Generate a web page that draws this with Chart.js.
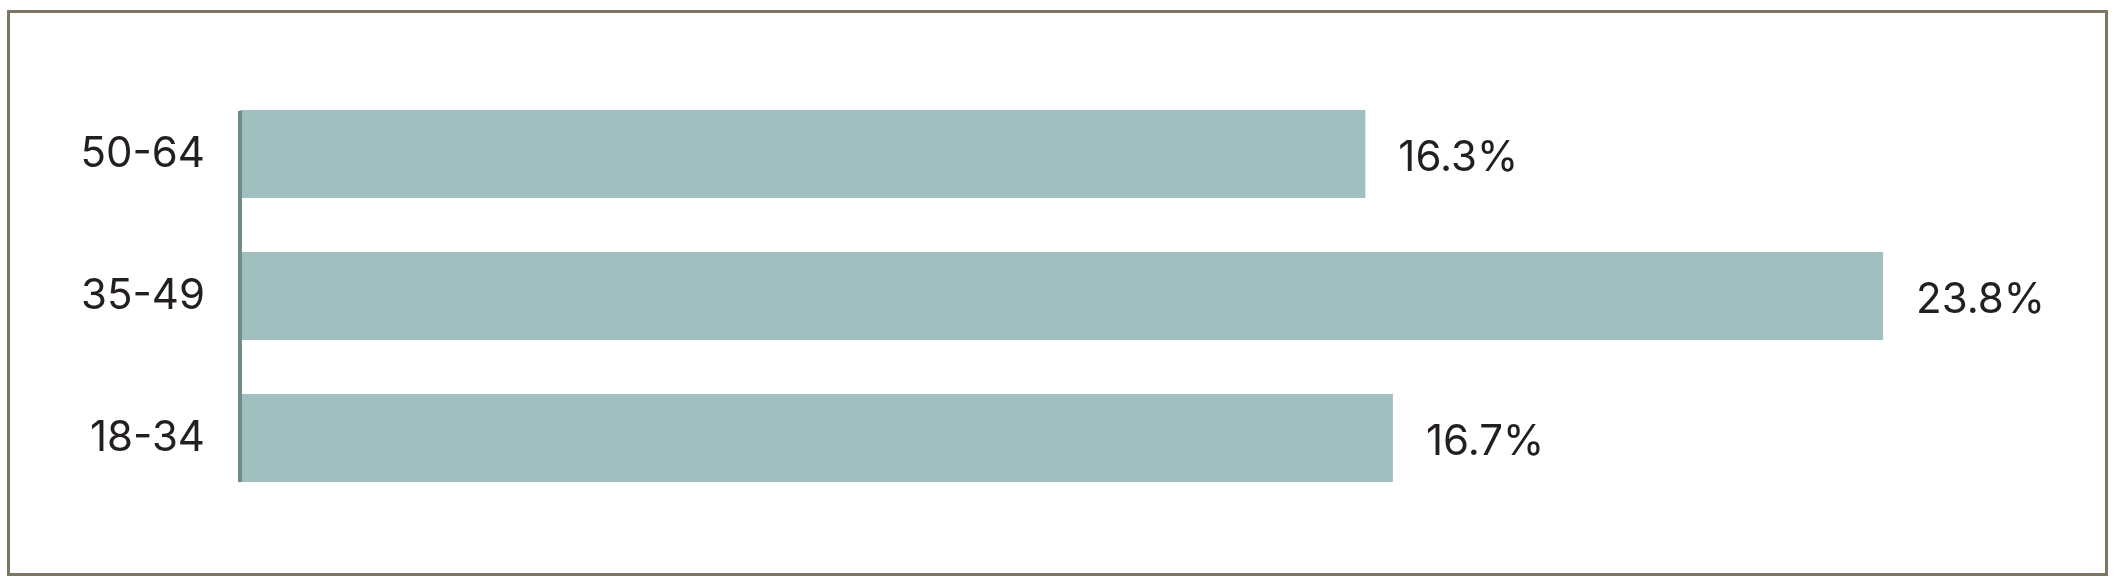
<!DOCTYPE html>
<html>
<head>
<meta charset="utf-8">
<script src="https://cdn.jsdelivr.net/npm/chart.js@4/dist/chart.umd.min.js"></script>
<style>
  html, body { margin: 0; padding: 0; background: #ffffff; }
  #wrap { position: relative; width: 2118px; height: 584px; }
  #frame {
    position: absolute; left: 7px; top: 10px;
    width: 2095px; height: 560px;
    border: 3px solid #7b7666; pointer-events: none;
  }
</style>
</head>
<body>
<div id="wrap">
  <div id="frame"></div>
  <canvas id="grafico"></canvas>
</div>
<script>
// dados do gráfico
var faixas = ['50-64', '35-49', '18-34'];
var percentuais = [16.3, 23.8, 16.7];
var rotulos = ['16.3%', '23.8%', '16.7%'];

var corTexto = '#231f20';
var fonte = { family: 'Inter', size: 42, weight: '400' };

// linha do eixo vertical, só da primeira à última barra
var linhaEixo = {
    id: 'linhaEixo',
    afterDatasetsDraw(chart) {
        let barras = chart.getDatasetMeta(0).data;
        let topo = barras[0].y - barras[0].height / 2;
        let base = barras[barras.length - 1].y + barras[barras.length - 1].height / 2;
        let ctx = chart.ctx;
        ctx.save();
        ctx.fillStyle = '#6c8f81';
        ctx.fillRect(chart.chartArea.left - 2, topo + 1, 4, base - topo - 1);
        ctx.restore();
    }
};

// rótulos de valor ao lado de cada barra
var rotulosValor = {
    id: 'rotulosValor',
    afterDatasetsDraw(chart) {
        let ctx = chart.ctx;
        ctx.save();
        ctx.font = fonte.weight + ' ' + fonte.size + 'px ' + fonte.family;
        ctx.fillStyle = corTexto;
        ctx.textAlign = 'left';
        ctx.textBaseline = 'middle';
        chart.getDatasetMeta(0).data.forEach((barra, i) => {
            ctx.fillText(rotulos[i], barra.x + 33, barra.y + 4);
        });
        ctx.restore();
    }
};

var contexto = document.getElementById('grafico').getContext('2d');
var grafico = new Chart(contexto, {
    type: 'bar',
    data: {
        labels: faixas,
        datasets: [{
            label: 'Faixa etária',
            data: percentuais,
            backgroundColor: '#a2bfbf',
            borderWidth: 0,
            categoryPercentage: 1,
            barPercentage: 0.62
        }]
    },
    options: {
        indexAxis: 'y',
        responsive: true,
        maintainAspectRatio: false,
        animation: false,
        layout: { padding: { left: 0, right: 14, top: 83, bottom: 75 } },
        plugins: {
            legend: { display: false },
            tooltip: { enabled: false }
        },
        scales: {
            x: {
                display: false,
                min: 0,
                max: 27
            },
            y: {
                afterFit(escala) { escala.width = 240; },
                grid: { display: false, drawTicks: false },
                border: { display: false },
                ticks: {
                    padding: 35,
                    color: corTexto,
                    font: fonte
                }
            }
        }
    },
    plugins: [linhaEixo, rotulosValor]
});
</script>
</body>
</html>
